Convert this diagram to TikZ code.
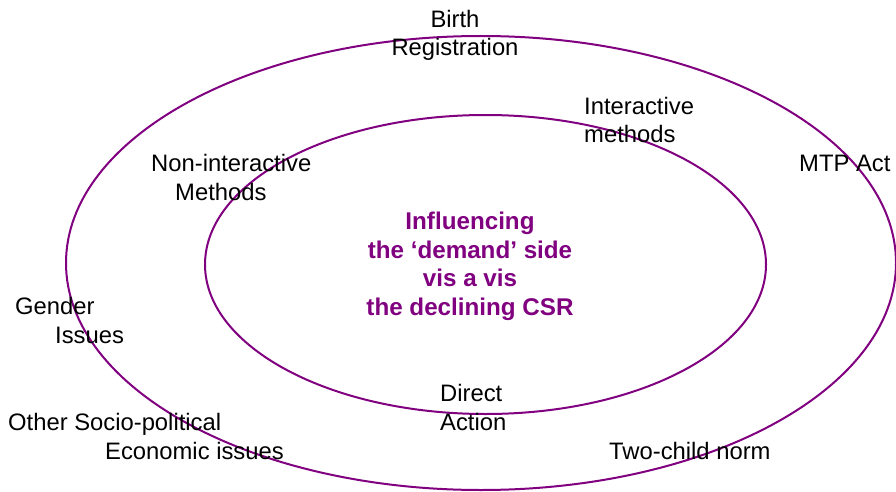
\documentclass[tikz,border=0pt]{standalone}
\usepackage{fontspec}
\setmainfont{Liberation Sans}
\usepackage{tikz}

\definecolor{plum}{RGB}{128,0,128}

\begin{document}
\begin{tikzpicture}
          [x=1pt,y=-1pt,
          font=\fontsize{23.8}{28.5}\selectfont,
          ring/.style={draw=plum,line width=2pt},
          label/.style={inner sep=0pt,text=black},
          lleft/.style={label,anchor=west,align=left},
          core/.style={inner sep=0pt,text=plum,align=center,font=\fontsize{24.2}{28.5}\selectfont\bfseries}]

            \useasboundingbox (0,0) rectangle (896,492);

            % the two rings
            \draw [ring] (481,263) ellipse [x radius=415, y radius=227];
            \draw [ring] (485.5,264.5) ellipse [x radius=280.5, y radius=149.5];

            \node (demand) [core] at (470,266.5) {Influencing\\the `demand' side\\vis a vis\\the declining CSR};

            % inner ring
            \node (interactive) [lleft] at (584,120) {Interactive\\methods};
            \node (noninteractive) [lleft] at (151,177.5) {Non-interactive\\\hspace*{24pt}Methods};
            \node (direct) [lleft] at (440,407.5) {Direct\\Action};

            % outer ring
            \node (birth) [label,align=center] at (455,35.5) {Birth\\Registration};
            \node (mtp) [lleft] at (799,163.5) {MTP Act};
            \node (gender) [lleft] at (15,320.5) {Gender\\\hspace*{40pt}Issues};
            \node (othersocio) [lleft] at (8,436.5) {Other Socio-political\\\hspace*{97pt}Economic issues};
            \node (twochild) [lleft] at (609,450.5) {Two-child norm};

        \end{tikzpicture}
\end{document}
